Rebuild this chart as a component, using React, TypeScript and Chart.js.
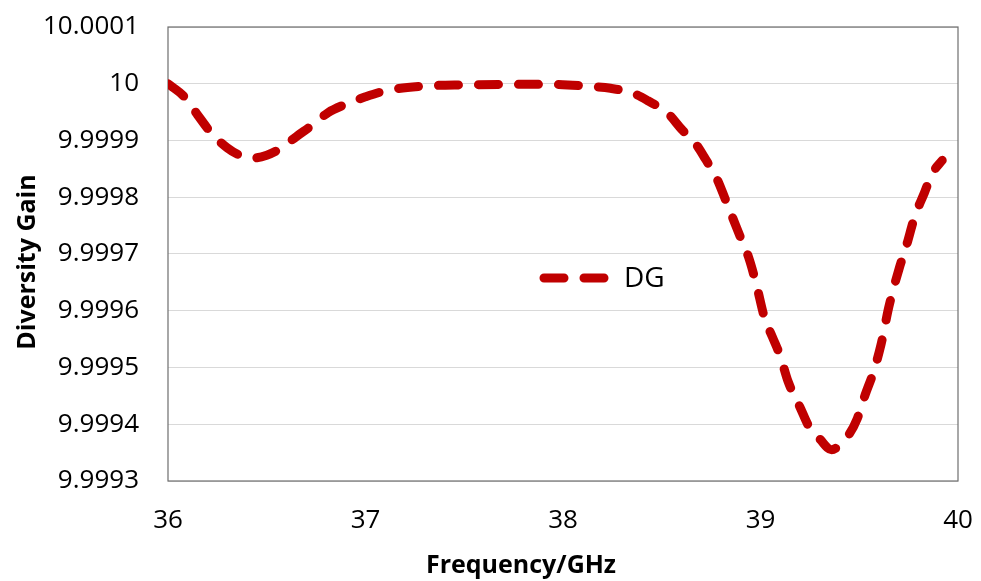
import React, { useEffect, useRef } from 'react';
import { Chart, registerables } from 'chart.js';

Chart.register(...registerables);

const frequency = [
  36.0, 36.08, 36.15, 36.22, 36.3, 36.37, 36.43, 36.5, 36.57, 36.65, 36.73, 36.81, 36.9,
  37.0, 37.12, 37.3, 37.5, 37.75, 37.95, 38.15, 38.24, 38.35, 38.43, 38.53, 38.6, 38.67,
  38.72, 38.78, 38.82, 38.86, 38.9, 38.94, 38.98, 39.02, 39.06, 39.1, 39.14, 39.2, 39.25,
  39.3, 39.36, 39.4, 39.45, 39.49, 39.53, 39.57, 39.61, 39.65, 39.7, 39.74, 39.78, 39.83,
  39.87, 39.92,
];

const diversityGain = [
  10.0, 9.999978, 9.999945, 9.999913, 9.999887, 9.999873, 9.999869, 9.999874, 9.999886,
  9.999907, 9.999927, 9.999949, 9.999964, 9.999977, 9.999989, 9.999996, 9.999998, 9.999999,
  9.999999, 9.999995, 9.999992, 9.999984, 9.99997, 9.999948, 9.99992, 9.999895, 9.999868,
  9.999832, 9.999798, 9.999763, 9.999728, 9.999694, 9.999645, 9.999588, 9.999554, 9.99952,
  9.999475, 9.99943, 9.999393, 9.999374, 9.999355, 9.999363, 9.999383, 9.99941, 9.999452,
  9.99949, 9.99954, 9.999607, 9.999672, 9.999716, 9.999765, 9.999808, 9.999842, 9.999865,
];

const xTicks = [36, 37, 38, 39, 40];
const yTicks = [9.9993, 9.9994, 9.9995, 9.9996, 9.9997, 9.9998, 9.9999, 10.0, 10.0001];

const seriesLabel = 'DG';
const xTitle = 'Frequency/GHz';
const yTitle = 'Diversity Gain';

const FONT = "'Open Sans', sans-serif";
const RED = '#C00000';
const DASH = [20, 20];

const framePlugin = {
  id: 'frame',
  beforeDatasetsDraw(chart: any) {
    const { ctx, chartArea } = chart;
    ctx.save();
    ctx.strokeStyle = '#6e6e6e';
    ctx.lineWidth = 1.2;
    ctx.strokeRect(chartArea.left, chartArea.top, chartArea.right - chartArea.left, chartArea.bottom - chartArea.top);
    ctx.restore();
  },
};

const overlayPlugin = {
  id: 'overlay',
  afterDraw(chart: any) {
    const { ctx } = chart;
    const ds = chart.data.datasets[0];
    ctx.save();
    // legend inside plot
    ctx.strokeStyle = ds.borderColor;
    ctx.lineWidth = ds.borderWidth;
    ctx.lineCap = 'round';
    ctx.setLineDash(DASH);
    ctx.beginPath();
    ctx.moveTo(544, 278);
    ctx.lineTo(606, 278);
    ctx.stroke();
    ctx.setLineDash([]);
    ctx.fillStyle = '#000';
    ctx.font = `28px ${FONT}`;
    ctx.textBaseline = 'middle';
    ctx.textAlign = 'left';
    ctx.fillText(ds.label, 624, 279);
    // axis titles
    ctx.font = `bold 25px ${FONT}`;
    ctx.textAlign = 'center';
    ctx.fillText(xTitle, 521, 566);
    ctx.translate(28, 262);
    ctx.rotate(-Math.PI / 2);
    ctx.fillText(yTitle, 0, 0);
    ctx.restore();
  },
};

const zeroPadding = (scale: any) => {
  scale.paddingTop = 0;
  scale.paddingBottom = 0;
  scale.paddingLeft = 0;
  scale.paddingRight = 0;
};

export default function App() {
  const ref = useRef<HTMLCanvasElement>(null);

  useEffect(() => {
    document.body.style.margin = '0';
    if (!ref.current) return;
    const chart = new Chart(ref.current, {
      type: 'line',
      data: {
        datasets: [
          {
            label: seriesLabel,
            data: frequency.map((f, i) => ({ x: f, y: diversityGain[i] })),
            borderColor: RED,
            backgroundColor: RED,
            borderWidth: 9,
            borderDash: DASH,
            borderCapStyle: 'round',
            pointRadius: 0,
            cubicInterpolationMode: 'monotone',
            fill: false,
          },
        ],
      },
      options: {
        responsive: false,
        animation: false,
        layout: { padding: { top: 27, right: 23, left: 0, bottom: 0 } },
        plugins: {
          legend: { display: false },
          tooltip: { enabled: false },
        },
        scales: {
          x: {
            type: 'linear',
            min: 36,
            max: 40,
            afterBuildTicks: (scale: any) => {
              scale.ticks = xTicks.map((value) => ({ value }));
            },
            afterFit: (scale: any) => {
              scale.height = 100;
              zeroPadding(scale);
            },
            grid: { display: false, drawTicks: false },
            border: { display: false },
            ticks: {
              padding: 24,
              color: '#000',
              font: { family: FONT, size: 26 },
              maxRotation: 0,
              callback: (v: any) => String(v),
            },
          },
          y: {
            type: 'linear',
            min: 9.9993,
            max: 10.0001,
            afterBuildTicks: (scale: any) => {
              scale.ticks = yTicks.map((value) => ({ value }));
            },
            afterFit: (scale: any) => {
              scale.width = 168;
              zeroPadding(scale);
            },
            grid: { display: true, color: '#d9d9d9', lineWidth: 1, drawTicks: false },
            border: { display: false },
            ticks: {
              padding: 29,
              color: '#000',
              font: { family: FONT, size: 26 },
              callback: (v: any) => String(parseFloat(Number(v).toFixed(4))),
            },
          },
        },
      },
      plugins: [framePlugin, overlayPlugin],
    });
    return () => chart.destroy();
  }, []);

  return (
    <div style={{ position: 'absolute', left: 0, top: 0, width: 981, height: 581 }}>
      <canvas ref={ref} width={981} height={581} />
    </div>
  );
}
